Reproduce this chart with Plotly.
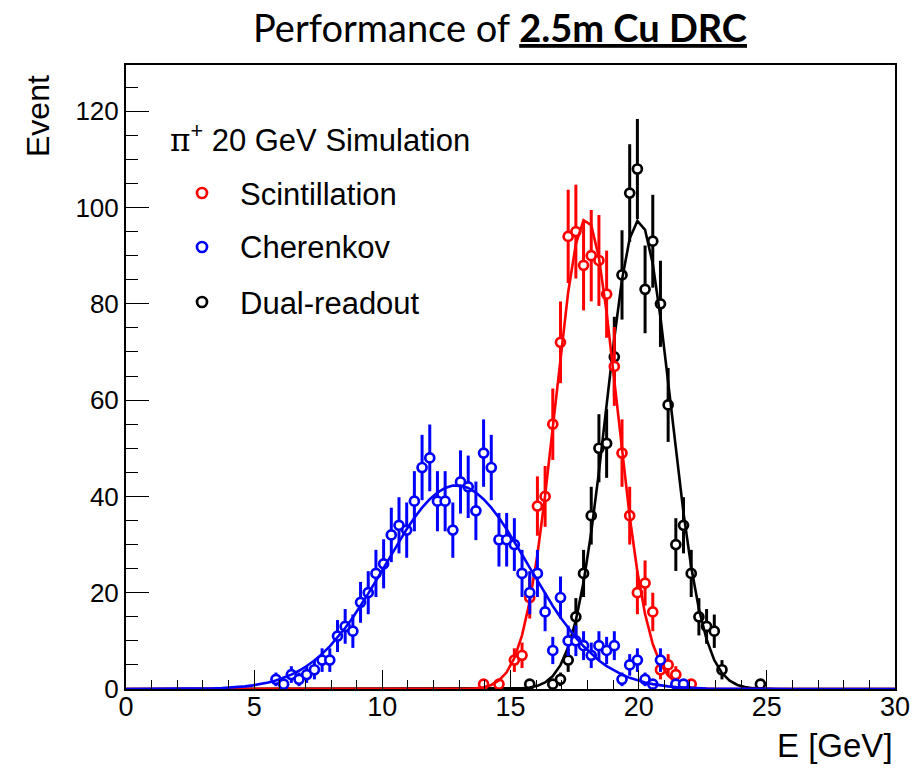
import numpy as np
import plotly.graph_objects as go

# ---------------- data ----------------
cher_x = [5.85, 6.15, 6.45, 6.75, 7.05, 7.35, 7.65, 7.95, 8.25, 8.55, 8.85, 9.15, 9.45, 9.75,
          10.05, 10.35, 10.65, 10.95, 11.25, 11.55, 11.85, 12.15, 12.45, 12.75, 13.05, 13.35,
          13.65, 13.95, 14.25, 14.55, 14.85, 15.15, 15.45, 15.75, 16.05, 16.35, 16.65, 16.95,
          17.25, 17.55, 17.85, 18.15, 18.45, 18.75, 19.05, 19.35, 19.65, 19.95, 20.25, 20.55,
          20.85, 21.45, 21.75]
cher_y = [2, 1, 3, 2, 3, 4, 6, 6, 11, 13, 12, 18, 20, 24,
          26, 32, 34, 33, 39, 46, 48, 39, 39, 33, 43, 42,
          37, 49, 46, 31, 31, 30, 24, 20, 24, 16, 8, 19,
          10, 10, 9, 7, 9, 8, 9, 2, 5, 6, 2, 1,
          6, 1, 1]

scint_x = [13.95, 14.55, 15.15, 15.45, 15.75, 16.05, 16.35, 16.65, 16.95, 17.25, 17.55, 17.85,
           18.15, 18.45, 18.75, 19.05, 19.35, 19.65, 19.95, 20.25, 20.55, 20.85, 21.15, 21.45,
           22.05]
scint_y = [1, 1, 6, 7, 19, 38, 40, 55, 72, 94, 95, 88,
           90, 89, 82, 67, 49, 36, 20, 22, 16, 4, 5, 3,
           1]

dr_x = [15.75, 16.65, 16.95, 17.25, 17.55, 17.85, 18.15, 18.45, 18.75, 19.05, 19.35, 19.65,
        19.95, 20.25, 20.55, 20.85, 21.15, 21.45, 21.75, 22.05, 22.35, 22.65, 22.95, 23.25,
        24.75]
dr_y = [1, 1, 2, 6, 15, 24, 36, 50, 51, 69, 86, 103,
        108, 83, 93, 80, 59, 30, 34, 24, 15, 13, 12, 4,
        1]

# Gaussian fit parameters (amplitude, mean, sigma)
cher_fit = (42.3, 12.9, 2.8)
scint_fit = (97.7, 17.95, 1.2)
dr_fit = (97.3, 20.0, 1.25)

x_ticks = [0, 5, 10, 15, 20, 25, 30]
y_ticks = [0, 20, 40, 60, 80, 100, 120]

series_names = ["Scintillation", "Cherenkov", "Dual-readout"]
RED, BLUE, BLACK = "#ff0000", "#0000ff", "#000000"

# ---------------- layout geometry (pixels) ----------------
W, H = 923, 768
L, R, T, B = 126, 895, 65, 689
PW, PH = R - L, B - T


def px(xp):
    return (xp - L) / PW


def py(yp):
    return (B - yp) / PH


FONT = "Liberation Sans, Arial, Helvetica, sans-serif"

# fit function sampled like ROOT (100 points over the range)
fit_x = np.concatenate([[0.0], np.arange(0.15, 30.0, 0.3), [30.0]])


def gauss(p):
    a, m, s = p
    return a * np.exp(-0.5 * ((fit_x - m) / s) ** 2)


fig = go.Figure()


def add_series(xs, ys, fitp, color):
    ys = np.array(ys, dtype=float)
    fig.add_trace(go.Scatter(
        x=xs, y=ys, mode="markers",
        marker=dict(symbol="circle", size=9, color="white",
                    line=dict(color=color, width=2.7)),
        error_y=dict(type="data", array=np.sqrt(ys), color=color,
                     thickness=3, width=0),
        showlegend=False, hoverinfo="x+y"))
    fig.add_trace(go.Scatter(
        x=fit_x, y=gauss(fitp), mode="lines",
        line=dict(color=color, width=2.6), showlegend=False, hoverinfo="skip"))


add_series(dr_x, dr_y, dr_fit, BLACK)
add_series(scint_x, scint_y, scint_fit, RED)
add_series(cher_x, cher_y, cher_fit, BLUE)

annotations = []
shapes = []

# title
annotations.append(dict(
    text="Performance of <b><u>2.5m Cu DRC</u></b>",
    x=px(500), y=py(27), xref="paper", yref="paper",
    xanchor="center", yanchor="middle", showarrow=False,
    font=dict(family="Lato, Open Sans, sans-serif", size=38, color="black")))

# axis titles
annotations.append(dict(
    text="Event", x=px(38), y=py(116), xref="paper", yref="paper",
    xanchor="center", yanchor="middle", textangle=-90, showarrow=False,
    font=dict(family=FONT, size=32, color="black")))
annotations.append(dict(
    text="E [GeV]", x=px(895), y=py(746), xref="paper", yref="paper",
    xanchor="right", yanchor="middle", showarrow=False,
    font=dict(family=FONT, size=33, color="black")))

# legend header
annotations.append(dict(
    text="<span style='font-family:DejaVu Serif'>π</span><sup>+</sup> 20 GeV Simulation",
    x=px(168), y=py(138), xref="paper", yref="paper",
    xanchor="left", yanchor="middle", showarrow=False,
    font=dict(family=FONT, size=31, color="black")))

leg_colors = [RED, BLUE, BLACK]
leg_y = [193, 247, 302]
for name, col, ly in zip(series_names, leg_colors, leg_y):
    annotations.append(dict(
        text=name, x=px(238), y=py(ly + 1), xref="paper", yref="paper",
        xanchor="left", yanchor="middle", showarrow=False,
        font=dict(family=FONT, size=31, color="black")))
    shapes.append(dict(
        type="circle", xref="paper", yref="paper",
        xsizemode="pixel", ysizemode="pixel",
        xanchor=px(202), yanchor=py(ly),
        x0=-5, x1=5, y0=-5, y1=5,
        line=dict(color=col, width=2.7), fillcolor="white"))

fig.update_layout(
    width=W, height=H,
    margin=dict(l=L, r=W - R, t=T, b=H - B, pad=0),
    paper_bgcolor="white", plot_bgcolor="white",
    showlegend=False,
    annotations=annotations, shapes=shapes,
    font=dict(family=FONT, color="black"),
    xaxis=dict(
        range=[0, 30], tickmode="array", tickvals=x_ticks,
        ticktext=[str(v) for v in x_ticks],
        ticks="inside", ticklen=19, tickwidth=1.3, tickcolor="black",
        minor=dict(dtick=1, tick0=0, ticks="inside", ticklen=9.5,
                   tickwidth=1.3, tickcolor="black", showgrid=False),
        showline=True, linecolor="black", linewidth=2, mirror=True,
        showgrid=False, zeroline=False, ticklabelstandoff=-7,
        tickfont=dict(family=FONT, size=27, color="black"),
    ),
    yaxis=dict(
        range=[0, 129.6], tickmode="array", tickvals=y_ticks,
        ticktext=[str(v) for v in y_ticks],
        ticks="inside", ticklen=23, tickwidth=1.3, tickcolor="black",
        minor=dict(dtick=5, tick0=0, ticks="inside", ticklen=11.5,
                   tickwidth=1.3, tickcolor="black", showgrid=False),
        showline=True, linecolor="black", linewidth=2, mirror=True,
        showgrid=False, zeroline=False,
        tickfont=dict(family=FONT, size=26, color="black"),
    ),
)

fig.write_html("out.html")
